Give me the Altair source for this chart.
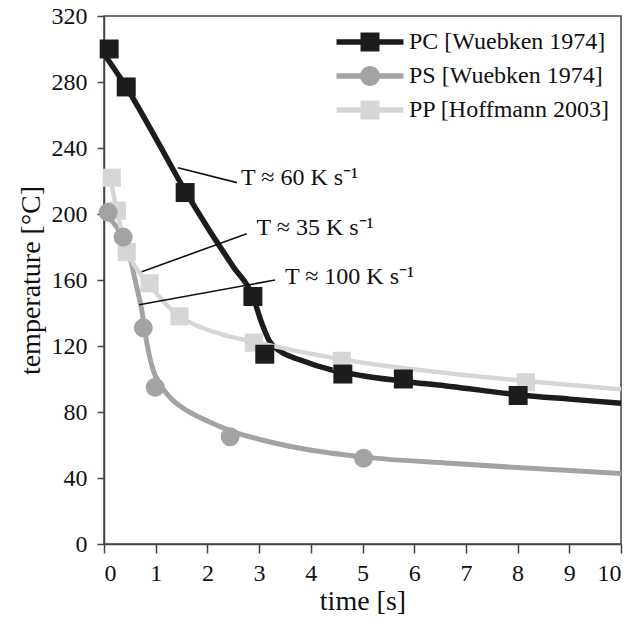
import altair as alt
import pandas as pd

# ---------------- data ----------------
series_names = ["PC [Wuebken 1974]", "PS [Wuebken 1974]", "PP [Hoffmann 2003]"]
series_colors = ["#1c1c1c", "#a3a3a3", "#d6d6d6"]

# measured points (markers)
pc_pts_time = [0.10, 0.43, 1.57, 2.88, 3.11, 4.62, 5.79, 8.01]
pc_pts_temp = [300, 277, 213, 150, 115, 103, 100, 90]
ps_pts_time = [0.08, 0.37, 0.76, 0.99, 2.44, 5.02]
ps_pts_temp = [201, 186, 131, 95, 65, 52]
pp_pts_time = [0.15, 0.25, 0.44, 0.88, 1.46, 2.90, 4.60, 8.16]
pp_pts_temp = [222, 202, 177, 158, 138, 122, 111, 98]

# fitted curves
pc_curve_time = [0, 0.43, 1.0, 1.57, 2.0, 2.5, 2.88, 3.05, 3.2, 3.4, 3.8, 4.4, 5.0, 5.7, 6.7, 8.0, 9.0, 10.0]
pc_curve_temp = [297, 277, 246, 214, 192, 168, 150, 134, 123, 117, 111.5, 105.5, 102, 99, 95.5, 90.5, 87.8, 85.3]
ps_curve_time = [0, 0.31, 0.5, 0.63, 0.73, 0.83, 0.95, 1.1, 1.3, 1.6, 2.0, 2.5, 3.0, 3.79, 5.08, 6.7, 8.0, 9.0, 10.0]
ps_curve_temp = [200, 188.5, 174, 156, 141.8, 121.6, 105.5, 96, 88, 81, 74.5, 68, 63.5, 58, 52.5, 48.9, 46.3, 44.5, 42.8]
pp_curve_time = [0.12, 0.25, 0.44, 0.65, 0.88, 1.15, 1.46, 1.86, 2.4, 2.89, 3.79, 5.08, 6.7, 8.63, 10.0]
pp_curve_temp = [222, 202, 178, 166, 157, 147, 138, 131.5, 126, 122.6, 116.6, 109.5, 103.4, 97.4, 93.8]

# annotations: leader line start (on curve) / end (at label) and label text
ann_labels = ["T ≈ 60 K s⁻¹", "T ≈ 35 K s⁻¹", "T ≈ 100 K s⁻¹"]
ann_x1 = [1.43, 0.73, 0.68]
ann_y1 = [228, 165, 145]
ann_x2 = [2.57, 2.76, 3.31]
ann_y2 = [219, 188, 160]
ann_tx = [2.65, 2.95, 3.50]
ann_ty = [222, 191.5, 162]

x_ticks = [i * 0.5 for i in range(21)]
y_ticks = list(range(0, 321, 20))

# ---------------- tables ----------------
def table(name, t, T):
    return pd.DataFrame({"series": name, "time": t, "temp": T})

curves = pd.concat([
    table(series_names[0], pc_curve_time, pc_curve_temp),
    table(series_names[1], ps_curve_time, ps_curve_temp),
    table(series_names[2], pp_curve_time, pp_curve_temp),
])
points = pd.concat([
    table(series_names[0], pc_pts_time, pc_pts_temp),
    table(series_names[1], ps_pts_time, ps_pts_temp),
    table(series_names[2], pp_pts_time, pp_pts_temp),
])
ann = pd.DataFrame({"label": ann_labels, "x1": ann_x1, "y1": ann_y1,
                    "x2": ann_x2, "y2": ann_y2, "tx": ann_tx, "ty": ann_ty})
legend_df = pd.DataFrame({"series": series_names})

FONT = "Liberation Serif"

xscale = alt.Scale(domain=[0, 10], nice=False)
yscale = alt.Scale(domain=[0, 320], nice=False)

x_axis = alt.Axis(values=x_ticks, title="time [s]",
                  labelExpr="datum.value % 1 === 0 ? datum.label : ''",
                  tickSize={"condition": {"test": "datum.value % 1 === 0", "value": 9}, "value": 5},
                  grid=False, labelPadding=8, titlePadding=2)
y_axis = alt.Axis(values=y_ticks, title="temperature [°C]",
                  labelExpr="datum.value % 40 === 0 ? datum.label : ''",
                  tickSize={"condition": {"test": "datum.value % 40 === 0", "value": 7}, "value": 5},
                  grid=False, labelPadding=10, titlePadding=6)

X = alt.X("time:Q", scale=xscale, axis=x_axis)
Y = alt.Y("temp:Q", scale=yscale, axis=y_axis)

def line_layer(i, width):
    return alt.Chart(curves).transform_filter(alt.datum.series == series_names[i]).mark_line(
        strokeWidth=width, interpolate="monotone", color=series_colors[i]).encode(x=X, y=Y)

def point_layer(i, shape, size):
    return alt.Chart(points).transform_filter(alt.datum.series == series_names[i]).mark_point(
        shape=shape, filled=True, size=size, opacity=1, color=series_colors[i]).encode(x=X, y=Y)

leaders = alt.Chart(ann).mark_rule(color="#111111", strokeWidth=1.6).encode(
    x="x1:Q", y="y1:Q", x2="x2:Q", y2="y2:Q")
labels = alt.Chart(ann).mark_text(align="left", baseline="middle", font=FONT,
                                  fontSize=24, color="#111111").encode(
    x="tx:Q", y="ty:Q", text="label:N")

sq_path = ("M-3.35,-0.285L3.35,-0.285L3.35,0.285L-3.35,0.285Z "
           "M-0.95,-0.95L0.95,-0.95L0.95,0.95L-0.95,0.95Z")
ci_path = ("M-3.35,-0.285L3.35,-0.285L3.35,0.285L-3.35,0.285Z "
           "M-1,0A1,1 0 1,1 1,0A1,1 0 1,1 -1,0Z")

leg = dict(title=None, orient="none", legendX=254, legendY=14,
           labelFont=FONT, labelFontSize=24, labelColor="#111111", labelLimit=400,
           symbolSize=400, symbolStrokeWidth=0, symbolOpacity=1, labelOffset=27,
           rowPadding=10, padding=0)

# invisible marks; only their legend is seen
legend_layer = alt.Chart(legend_df).mark_point(filled=True, opacity=0).encode(
    x=alt.value(-50), y=alt.value(-50),
    color=alt.Color("series:N", scale=alt.Scale(domain=series_names, range=series_colors),
                    legend=alt.Legend(**leg)),
    shape=alt.Shape("series:N", scale=alt.Scale(domain=series_names,
                                                 range=[sq_path, ci_path, sq_path]),
                    legend=alt.Legend(**leg)),
)

chart = alt.layer(
    line_layer(0, 5.5),
    line_layer(1, 5),
    line_layer(2, 4.5),
    point_layer(2, "square", 330),
    point_layer(1, "circle", 360),
    point_layer(0, "square", 360),
    leaders,
    labels,
    legend_layer,
).properties(
    width=517, height=528,
    autosize=alt.AutoSizeParams(type="none"),
    padding={"left": 104, "top": 16, "right": 23, "bottom": 81},
).configure_view(
    stroke="#444444", strokeWidth=1.5
).configure_axis(
    domainColor="#444444", domainWidth=1.5, tickColor="#444444", tickWidth=1.5,
    labelFont=FONT, labelFontSize=24, labelColor="#111111",
    titleFont=FONT, titleFontSize=28, titleFontWeight="normal", titleColor="#111111",
)

chart.save("out.html", embed_options={"renderer": "svg", "actions": False})
